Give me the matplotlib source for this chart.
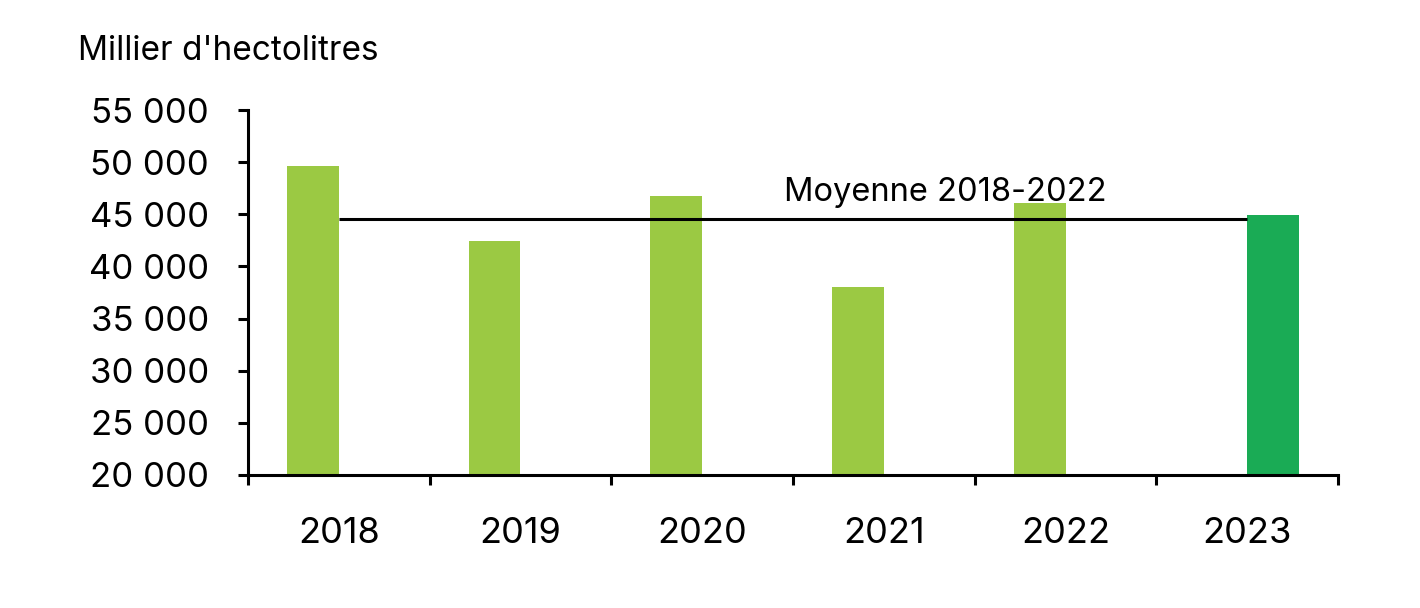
import matplotlib
matplotlib.use("Agg")
import matplotlib.pyplot as plt
import numpy as np

plt.rcParams['font.family'] = ['Inter', 'DejaVu Sans']

# production in thousand hectolitres
years = ["2018", "2019", "2020", "2021", "2022", "2023"]
past_values = [49600, 42400, 46800, 38000, 46050]
current_value = 44900
mean_label = "Moyenne 2018-2022"
y_ticks = [20000, 25000, 30000, 35000, 40000, 45000, 50000, 55000]

light_green = "#9bc943"
dark_green = "#1aab55"

mean_value = np.mean(past_values)

fig = plt.figure(figsize=(14.2, 6.08), dpi=100)
ax = fig.add_axes([0.1746, 0.2188, 0.9423 - 0.1746, 0.819 - 0.2188])

x = np.arange(len(years))
w = 0.286
ax.bar(x[:5] - w / 2, past_values, width=w, color=light_green, zorder=2)
ax.bar(x[5] + w / 2, current_value, width=w, color=dark_green, zorder=2)

# average line between first and last category
ax.plot([0, 5], [mean_value, mean_value], color="black", lw=2.2, zorder=3,
        solid_capstyle="butt")
ax.text(3.34, 46300, mean_label, ha="center", va="baseline", fontsize=23.5)

ax.set_xlim(-0.5, 5.5)
ax.set_ylim(20000, 55000)
ax.set_yticks(y_ticks)
ax.set_yticklabels([f"{v:,}".replace(",", " ") for v in y_ticks], fontsize=25)
ax.set_xticks(x)
ax.set_xticklabels(years, fontsize=26)
ax.set_xticks(np.arange(-0.5, 6, 1), minor=True)

for s in ["top", "right"]:
    ax.spines[s].set_visible(False)
for s in ["left", "bottom"]:
    ax.spines[s].set_linewidth(2.2)

ax.tick_params(axis="y", length=7, width=2.2, pad=21)
ax.tick_params(axis="x", which="major", length=0, pad=30)
ax.tick_params(axis="x", which="minor", length=7, width=2.2)

fig.text(78 / 1420, 1 - 60 / 608, "Millier d'hectolitres", fontsize=24,
         ha="left", va="baseline")

fig.savefig("out.png", dpi=100)
